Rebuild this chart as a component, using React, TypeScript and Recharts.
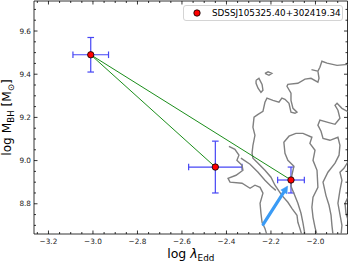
import React from 'react';
import { ComposedChart, Scatter, XAxis, YAxis, ErrorBar } from 'recharts';

const X_DOMAIN: [number, number] = [-3.265, -1.856];
const Y_DOMAIN: [number, number] = [8.66, 9.739];

const xMajorTicks = [-3.2, -3.0, -2.8, -2.6, -2.4, -2.2, -2.0];
const xMinorTicks = [-3.25, -3.15, -3.1, -3.05, -2.95, -2.9, -2.85, -2.75, -2.7, -2.65, -2.55, -2.5, -2.45, -2.35, -2.3, -2.25, -2.15, -2.1, -2.05, -1.95, -1.9];
const yMajorTicks = [8.8, 9.0, 9.2, 9.4, 9.6];
const yMinorTicks = [8.7, 8.75, 8.85, 8.9, 8.95, 9.05, 9.1, 9.15, 9.25, 9.3, 9.35, 9.45, 9.5, 9.55, 9.65, 9.7];

const legendLabel = 'SDSSJ105325.40+302419.34';

// epochs: log lambda_Edd, log M_BH, symmetric errors
const observations = [
  { x: -3.01, y: 9.49, ex: 0.08, ey: 0.08 },
  { x: -2.45, y: 8.97, ex: 0.12, ey: 0.12 },
  { x: -2.11, y: 8.91, ex: 0.06, ey: 0.06 },
];
const linkFirstSecond = [observations[0], observations[1]];
const linkFirstThird = [observations[0], observations[2]];

const arrowData = [
  { x: -2.235, y: 8.705 },
  { x: -2.125, y: 8.882 },
];

// density contours (gray)
const contourOuter = [
  { x: -1.85, y: 9.446 }, { x: -1.903, y: 9.441 }, { x: -1.948, y: 9.451 }, { x: -1.971, y: 9.46 },
  { x: -1.98, y: 9.432 }, { x: -1.989, y: 9.414 }, { x: -1.984, y: 9.381 }, { x: -1.989, y: 9.363 },
  { x: -2.02, y: 9.381 }, { x: -2.047, y: 9.377 }, { x: -2.079, y: 9.358 }, { x: -2.124, y: 9.353 },
  { x: -2.128, y: 9.344 }, { x: -2.11, y: 9.312 }, { x: -2.11, y: 9.279 }, { x: -2.101, y: 9.242 },
  { x: -2.083, y: 9.224 }, { x: -2.092, y: 9.219 }, { x: -2.11, y: 9.224 }, { x: -2.119, y: 9.265 },
  { x: -2.137, y: 9.284 }, { x: -2.151, y: 9.289 }, { x: -2.164, y: 9.27 }, { x: -2.191, y: 9.279 },
  { x: -2.218, y: 9.289 }, { x: -2.227, y: 9.27 }, { x: -2.236, y: 9.228 }, { x: -2.258, y: 9.214 },
  { x: -2.276, y: 9.201 }, { x: -2.281, y: 9.154 }, { x: -2.272, y: 9.117 }, { x: -2.281, y: 9.071 },
  { x: -2.285, y: 9.034 }, { x: -2.281, y: 9.011 }, { x: -2.258, y: 8.988 }, { x: -2.227, y: 8.955 },
  { x: -2.2, y: 8.923 }, { x: -2.182, y: 8.886 }, { x: -2.151, y: 8.839 }, { x: -2.124, y: 8.807 },
  { x: -2.106, y: 8.779 }, { x: -2.083, y: 8.747 }, { x: -2.079, y: 8.714 }, { x: -2.07, y: 8.686 },
  { x: -2.061, y: 8.655 },
];
const contourLobe = [
  { x: -2.389, y: 9.066 }, { x: -2.362, y: 9.052 }, { x: -2.344, y: 9.025 }, { x: -2.353, y: 9.001 },
  { x: -2.33, y: 8.978 }, { x: -2.326, y: 8.955 }, { x: -2.357, y: 8.932 }, { x: -2.393, y: 8.918 },
  { x: -2.384, y: 8.9 }, { x: -2.33, y: 8.895 }, { x: -2.294, y: 8.872 }, { x: -2.272, y: 8.886 },
  { x: -2.249, y: 8.876 }, { x: -2.236, y: 8.849 }, { x: -2.249, y: 8.802 }, { x: -2.245, y: 8.756 },
  { x: -2.24, y: 8.714 }, { x: -2.227, y: 8.686 }, { x: -2.218, y: 8.655 },
];
const contourDiagonal = [
  { x: -2.335, y: 9.011 }, { x: -2.294, y: 8.983 }, { x: -2.258, y: 8.946 }, { x: -2.227, y: 8.909 },
  { x: -2.2, y: 8.881 }, { x: -2.178, y: 8.862 },
];
const contourMiddle = [
  { x: -2.047, y: 8.655 }, { x: -2.056, y: 8.71 }, { x: -2.065, y: 8.756 }, { x: -2.079, y: 8.802 },
  { x: -2.097, y: 8.849 }, { x: -2.11, y: 8.881 }, { x: -2.106, y: 8.932 }, { x: -2.097, y: 8.974 },
  { x: -2.124, y: 9.001 }, { x: -2.137, y: 9.034 }, { x: -2.142, y: 9.085 }, { x: -2.119, y: 9.113 },
  { x: -2.088, y: 9.126 }, { x: -2.056, y: 9.126 }, { x: -2.016, y: 9.108 }, { x: -2.025, y: 9.08 },
  { x: -2.002, y: 9.048 }, { x: -2.011, y: 9.001 }, { x: -1.993, y: 8.955 }, { x: -1.989, y: 8.876 },
  { x: -2.011, y: 8.83 }, { x: -2.016, y: 8.784 }, { x: -2.011, y: 8.737 }, { x: -2.002, y: 8.691 },
  { x: -1.993, y: 8.655 },
];
const contourRight = [
  { x: -1.85, y: 9.224 }, { x: -1.881, y: 9.242 }, { x: -1.903, y: 9.265 }, { x: -1.912, y: 9.256 },
  { x: -1.899, y: 9.233 }, { x: -1.89, y: 9.196 }, { x: -1.912, y: 9.168 }, { x: -1.944, y: 9.177 },
  { x: -1.98, y: 9.187 }, { x: -1.989, y: 9.164 }, { x: -1.975, y: 9.136 }, { x: -1.966, y: 9.103 },
  { x: -1.935, y: 9.094 }, { x: -1.899, y: 9.108 }, { x: -1.89, y: 9.071 }, { x: -1.894, y: 9.025 },
  { x: -1.912, y: 8.988 }, { x: -1.944, y: 8.946 }, { x: -1.966, y: 8.9 }, { x: -1.953, y: 8.839 },
  { x: -1.939, y: 8.793 }, { x: -1.93, y: 8.747 }, { x: -1.926, y: 8.7 }, { x: -1.921, y: 8.655 },
];
const contourEdge = [
  { x: -1.85, y: 9.001 }, { x: -1.872, y: 8.964 }, { x: -1.89, y: 8.946 }, { x: -1.881, y: 8.909 },
  { x: -1.89, y: 8.862 }, { x: -1.899, y: 8.802 }, { x: -1.89, y: 8.751 }, { x: -1.881, y: 8.7 },
  { x: -1.885, y: 8.655 },
];
const contourCorner = [
  { x: -1.85, y: 8.839 }, { x: -1.867, y: 8.802 }, { x: -1.863, y: 8.756 }, { x: -1.85, y: 8.714 },
];
const islandLarge = [
  { x: -2.267, y: 9.372 }, { x: -2.254, y: 9.381 }, { x: -2.24, y: 9.353 }, { x: -2.236, y: 9.326 },
  { x: -2.245, y: 9.316 }, { x: -2.258, y: 9.335 }, { x: -2.267, y: 9.358 }, { x: -2.267, y: 9.372 },
];
const islandSmall = [
  { x: -2.227, y: 9.404 }, { x: -2.213, y: 9.411 }, { x: -2.196, y: 9.404 }, { x: -2.209, y: 9.395 },
  { x: -2.227, y: 9.404 },
];
const contourStub = [
  { x: -2.018, y: 9.421 }, { x: -1.99, y: 9.414 },
];

const contours = [
  contourOuter, contourLobe, contourDiagonal, contourMiddle, contourRight,
  contourEdge, contourCorner, islandLarge, islandSmall, contourStub,
];

const FONT = "'DejaVu Sans', sans-serif";
const xAllTicks = [...xMajorTicks, ...xMinorTicks].sort((a, b) => a - b);
const yAllTicks = [...yMajorTicks, ...yMinorTicks].sort((a, b) => a - b);

const isMajor = (v: number, majors: number[]) => majors.some((m) => Math.abs(m - v) < 1e-6);
const fmt = (v: number) => v.toFixed(1).replace('-', '\u2212');

const MAJOR_LEN = 3.5;
const MINOR_LEN = 2;

const makeTick = (side: 'bottom' | 'top' | 'left' | 'right') => (props: any) => {
  const { x, y, payload } = props;
  const majors = side === 'bottom' || side === 'top' ? xMajorTicks : yMajorTicks;
  const major = isMajor(payload.value, majors);
  const len = major ? MAJOR_LEN : MINOR_LEN;
  let line;
  if (side === 'bottom') line = <line x1={x} x2={x} y1={y} y2={y - len} stroke="#000" strokeWidth={0.8} />;
  else if (side === 'top') line = <line x1={x} x2={x} y1={y} y2={y + len} stroke="#000" strokeWidth={0.8} />;
  else if (side === 'left') line = <line x1={x} x2={x + len} y1={y} y2={y} stroke="#000" strokeWidth={0.8} />;
  else line = <line x1={x} x2={x - len} y1={y} y2={y} stroke="#000" strokeWidth={0.8} />;
  let label = null;
  if (major && side === 'bottom') {
    label = (
      <text x={x} y={y + 9.7} textAnchor="middle" fontSize={7.3} fontFamily={FONT} fill="#222">
        {fmt(payload.value)}
      </text>
    );
  } else if (major && side === 'left') {
    label = (
      <text x={x - 3} y={y + 2.7} textAnchor="end" fontSize={7.3} fontFamily={FONT} fill="#222">
        {fmt(payload.value)}
      </text>
    );
  }
  return (
    <g>
      {line}
      {label}
    </g>
  );
};

const XLabel = (props: any) => {
  const vb = props.viewBox;
  const cx = vb.x + vb.width / 2;
  return (
    <text x={cx} y={vb.y + 24} textAnchor="middle" fontFamily={FONT} fontSize={12.5} fill="#000">
      log <tspan fontStyle="italic">λ</tspan>
      <tspan fontSize={8.8} dy={2.5}>Edd</tspan>
    </text>
  );
};

const YLabel = (props: any) => {
  const vb = props.viewBox;
  const cy = vb.y + vb.height / 2;
  const bx = vb.x + 11;
  return (
    <text
      transform={`translate(${bx},${cy}) rotate(-90)`}
      x={0}
      y={0}
      textAnchor="middle"
      fontFamily={FONT}
      fontSize={12.2}
      fill="#000"
    >
      log M<tspan fontSize={8.6} dy={2.5}>BH</tspan>
      <tspan dy={-2.5}> [M</tspan>
      <tspan fontSize={8.6} dy={2.5}>⊙</tspan>
      <tspan dy={-2.5}>]</tspan>
    </text>
  );
};

const EmptyShape = () => <g />;

const PointShape = (props: any) => (
  <circle cx={props.cx} cy={props.cy} r={3.2} fill="#ff0000" stroke="#000" strokeWidth={0.8} />
);

const ArrowLine = (props: any) => {
  const pts = props.points;
  if (!pts || pts.length < 2) return <g />;
  const p0 = pts[0];
  const p1 = pts[pts.length - 1];
  const dx = p1.x - p0.x;
  const dy = p1.y - p0.y;
  const L = Math.sqrt(dx * dx + dy * dy) || 1;
  const ux = dx / L;
  const uy = dy / L;
  const headLen = 7;
  const headHalf = 3.6;
  const bx = p1.x - ux * headLen;
  const by = p1.y - uy * headLen;
  const nx = -uy;
  const ny = ux;
  const head = `${p1.x},${p1.y} ${bx + nx * headHalf},${by + ny * headHalf} ${bx - nx * headHalf},${by - ny * headHalf}`;
  return (
    <g>
      <line x1={p0.x} y1={p0.y} x2={bx + ux * 1} y2={by + uy * 1} stroke="#3a9bf5" strokeWidth={3.2} strokeLinecap="round" />
      <polygon points={head} fill="#3a9bf5" stroke="#3a9bf5" strokeWidth={0.5} />
    </g>
  );
};

const ERR_COLOR = '#4646f5';

export default function App() {
  return (
    <div style={{ position: 'absolute', left: 0, top: 0, width: 349, height: 262, background: '#fff' }}>
      <ComposedChart
        width={349}
        height={262}
        margin={{ top: 0, right: 0.5, bottom: 0, left: 0 }}
        style={{ fontFamily: FONT }}
      >
        <XAxis
          xAxisId="b"
          type="number"
          dataKey="x"
          domain={X_DOMAIN}
          allowDataOverflow
          ticks={xAllTicks}
          interval={0}
          tick={makeTick('bottom')}
          tickLine={false}
          tickSize={0}
          tickMargin={0}
          height={28}
          axisLine={{ stroke: '#000', strokeWidth: 0.8 }}
          label={<XLabel />}
        />
        <XAxis
          xAxisId="t"
          orientation="top"
          type="number"
          dataKey="x"
          domain={X_DOMAIN}
          allowDataOverflow
          ticks={xAllTicks}
          interval={0}
          tick={makeTick('top')}
          tickLine={false}
          tickSize={0}
          tickMargin={0}
          height={1}
          axisLine={{ stroke: '#000', strokeWidth: 0.8 }}
        />
        <YAxis
          yAxisId="l"
          type="number"
          dataKey="y"
          domain={Y_DOMAIN}
          allowDataOverflow
          ticks={yAllTicks}
          interval={0}
          tick={makeTick('left')}
          tickLine={false}
          tickSize={0}
          tickMargin={0}
          width={34}
          axisLine={{ stroke: '#000', strokeWidth: 0.8 }}
          label={<YLabel />}
        />
        <YAxis
          yAxisId="r"
          orientation="right"
          type="number"
          dataKey="y"
          domain={Y_DOMAIN}
          allowDataOverflow
          ticks={yAllTicks}
          interval={0}
          tick={makeTick('right')}
          tickLine={false}
          tickSize={0}
          tickMargin={0}
          width={1}
          axisLine={{ stroke: '#000', strokeWidth: 0.8 }}
        />

        <Scatter
          xAxisId="t"
          yAxisId="r"
          data={observations}
          shape={EmptyShape}
          isAnimationActive={false}
        />

        {contours.map((c, i) => (
          <Scatter
            key={`contour-${i}`}
            xAxisId="b"
            yAxisId="l"
            data={c}
            line={{ stroke: '#808080', strokeWidth: 1.4 }}
            lineJointType="linear"
            shape={EmptyShape}
            isAnimationActive={false}
          />
        ))}

        <Scatter
          xAxisId="b"
          yAxisId="l"
          data={linkFirstSecond}
          line={{ stroke: '#008000', strokeWidth: 0.9 }}
          shape={EmptyShape}
          isAnimationActive={false}
        />
        <Scatter
          xAxisId="b"
          yAxisId="l"
          data={linkFirstThird}
          line={{ stroke: '#008000', strokeWidth: 0.9 }}
          shape={EmptyShape}
          isAnimationActive={false}
        />

        <Scatter
          xAxisId="b"
          yAxisId="l"
          data={arrowData}
          line={ArrowLine}
          shape={EmptyShape}
          isAnimationActive={false}
        />

        <Scatter
          xAxisId="b"
          yAxisId="l"
          data={observations}
          shape={PointShape}
          isAnimationActive={false}
        >
          <ErrorBar dataKey="ex" direction="x" width={3.3} stroke={ERR_COLOR} strokeWidth={1.2} isAnimationActive={false} />
          <ErrorBar dataKey="ey" direction="y" width={3.3} stroke={ERR_COLOR} strokeWidth={1.2} isAnimationActive={false} />
        </Scatter>
      </ComposedChart>

      <div
        style={{
          position: 'absolute',
          left: 183,
          top: 5,
          width: 160,
          height: 16,
          boxSizing: 'border-box',
          border: '1px solid #d4d4d4',
          borderRadius: 3,
          background: 'rgba(255,255,255,0.85)',
          fontFamily: FONT,
          fontSize: 8.8,
          color: '#000',
        }}
      >
        <svg width={10} height={10} style={{ position: 'absolute', left: 8, top: 2 }}>
          <circle cx={5} cy={5} r={3.2} fill="#ff0000" stroke="#000" strokeWidth={0.8} />
        </svg>
        <span style={{ position: 'absolute', left: 28, top: 1.5, lineHeight: '11px', whiteSpace: 'nowrap' }}>
          {legendLabel}
        </span>
      </div>
    </div>
  );
}
